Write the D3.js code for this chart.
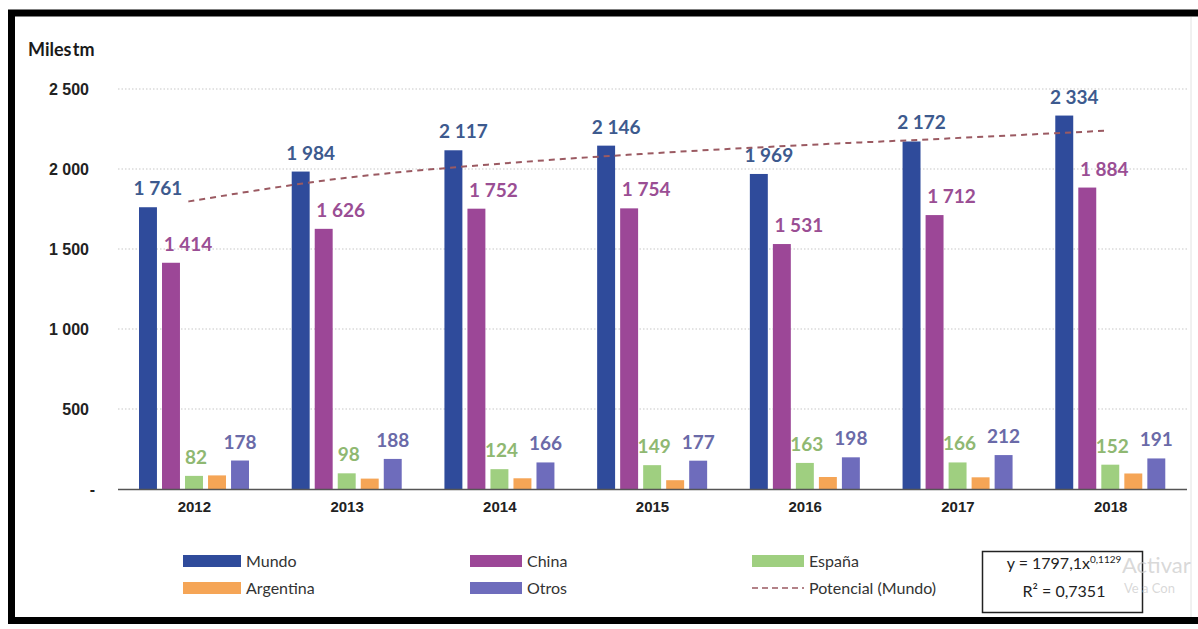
<!DOCTYPE html>
<html>
<head>
<meta charset="utf-8">
<script src="https://cdn.jsdelivr.net/npm/d3@7"></script>
<style>
  html, body { margin: 0; padding: 0; background: #fff; }
  svg { display: block; font-family: Lato, "Open Sans", sans-serif; }
</style>
</head>
<body>
<svg id="chart" width="1198" height="629"></svg>
<script>
/* Volumen por año (miles de tm) — Mundo, China, España, Argentina, Otros */
const YEARS = ["2012", "2013", "2014", "2015", "2016", "2017", "2018"];
const SERIES = ["Mundo", "China", "España", "Argentina", "Otros"];
const MUNDO = [1761, 1984, 2117, 2146, 1969, 2172, 2334];
const CHINA = [1414, 1626, 1752, 1754, 1531, 1712, 1884];
const ESPANA = [82, 98, 124, 149, 163, 166, 152];
const ARGENTINA = [85, 65, 67, 55, 75, 73, 97];
const OTROS = [178, 188, 166, 177, 198, 212, 191];
// Potencial (Mundo): y = 1797,1·x^0,1129
const TREND = [1797, 1941, 2030, 2096, 2148, 2192, 2239];
const Y_TICKS = [0, 500, 1000, 1500, 2000, 2500];

const VALUES = { "Mundo": MUNDO, "China": CHINA, "España": ESPANA, "Argentina": ARGENTINA, "Otros": OTROS };
const LABELED = ["Mundo", "China", "España", "Otros"];

const COLOR = { "Mundo": "#2f4b9b", "China": "#9c4797", "España": "#9fcf80", "Argentina": "#f5a556", "Otros": "#6e6cbc" };
const LABEL_COLOR = { "Mundo": "#3d5a8e", "China": "#9a4e94", "España": "#8fb872", "Otros": "#6a6aa8" };
const TREND_COLOR = "#9b5a62";

const svg = d3.select("#chart");

// frame (open on the right, like the cropped screenshot)
svg.append("rect").attr("x", 0).attr("y", 0).attr("width", 1198).attr("height", 629).attr("fill", "#fff");
svg.append("path").attr("d", "M1198,13 H11.5 V620.5 H1198")
  .attr("fill", "none").attr("stroke", "#000").attr("stroke-width", 7);
svg.append("line").attr("x1", 1191).attr("x2", 1191).attr("y1", 17).attr("y2", 617)
  .attr("stroke", "#e2e2e2").attr("stroke-width", 1);

const x0 = d3.scaleBand().domain(YEARS).range([118, 1187]);
const x1 = d3.scaleBand().domain(SERIES).range([21, 131]).paddingInner(0.22);
const y = d3.scaleLinear().domain([0, 2500]).range([489, 89]);
const fmt = v => d3.format(",")(v).replace(",", " ");

// gridlines (dotted)
svg.append("g").selectAll("line").data(Y_TICKS.filter(t => t > 0)).join("line")
  .attr("x1", 118).attr("x2", 1187).attr("y1", d => y(d)).attr("y2", d => y(d))
  .attr("stroke", "#c8c8c8").attr("stroke-width", 1.2).attr("stroke-dasharray", "1.5,2");

// y axis labels
const gy = svg.append("g").attr("transform", "translate(89,0)")
  .call(d3.axisLeft(y).tickValues(Y_TICKS).tickSize(0).tickPadding(0)
    .tickFormat(d => d === 0 ? "-" : fmt(d)));
gy.select(".domain").remove();
gy.selectAll("text").attr("font-size", 16).attr("font-weight", 700).attr("fill", "#222")
  .attr("dx", d => d === 0 ? 6 : 0);

svg.append("text").attr("x", 28).attr("y", 56).attr("font-size", 18).attr("font-weight", 700)
  .attr("fill", "#1a1a1a").attr("word-spacing", -3).text("Miles tm");

// bars
const groups = svg.append("g").selectAll("g").data(YEARS).join("g")
  .attr("transform", d => `translate(${x0(d)},0)`);
groups.selectAll("rect").data((yr, i) => SERIES.map(s => ({ s, v: VALUES[s][i] }))).join("rect")
  .attr("x", d => x1(d.s)).attr("width", x1.bandwidth())
  .attr("y", d => y(d.v)).attr("height", d => y(0) - y(d.v))
  .attr("fill", d => COLOR[d.s]);

// baseline
svg.append("line").attr("x1", 118).attr("x2", 1187).attr("y1", y(0) + 0.5).attr("y2", y(0) + 0.5)
  .attr("stroke", "#555").attr("stroke-width", 1.5);

// x axis labels
const gx = svg.append("g").attr("transform", `translate(0,${y(0)})`)
  .call(d3.axisBottom(x0).tickSize(0).tickPadding(12));
gx.select(".domain").remove();
gx.selectAll("text").attr("font-size", 15).attr("font-weight", 700).attr("fill", "#222");

// trend line (Potencial Mundo)
const trend = d3.line().curve(d3.curveMonotoneX)
  .x((d, i) => x0(YEARS[i]) + x0.bandwidth() / 2 - 6).y(d => y(d));
svg.append("path").datum(TREND).attr("d", trend)
  .attr("fill", "none").attr("stroke", TREND_COLOR).attr("stroke-width", 2)
  .attr("stroke-dasharray", "6,5");

// data labels
const LABEL_DX = { "Mundo": 10, "China": 17, "España": 2, "Otros": 0 };
groups.selectAll("text.val").data((yr, i) => LABELED.map(s => ({ s, v: VALUES[s][i] }))).join("text")
  .attr("class", "val")
  .attr("x", d => x1(d.s) + x1.bandwidth() / 2 + LABEL_DX[d.s])
  .attr("y", d => y(d.v) - 12)
  .attr("text-anchor", "middle").attr("font-size", 19).attr("font-weight", 700)
  .attr("fill", d => LABEL_COLOR[d.s]).text(d => fmt(d.v));

// legend
const LEGEND = [
  { key: "Mundo", col: 0, row: 0 }, { key: "China", col: 1, row: 0 }, { key: "España", col: 2, row: 0 },
  { key: "Argentina", col: 0, row: 1 }, { key: "Otros", col: 1, row: 1 }, { key: "Potencial (Mundo)", col: 2, row: 1, dashed: true },
];
const colX = [183, 470, 752], rowY = [561, 588];
const lg = svg.append("g").selectAll("g").data(LEGEND).join("g")
  .attr("transform", d => `translate(${colX[d.col]},${rowY[d.row]})`);
lg.filter(d => !d.dashed).append("rect").attr("x", 0).attr("y", -6).attr("width", d => d.col === 0 ? 58 : 52).attr("height", 12)
  .attr("fill", d => COLOR[d.key]);
lg.filter(d => d.dashed).append("line").attr("x1", 0).attr("x2", 52).attr("y1", 0).attr("y2", 0)
  .attr("stroke", TREND_COLOR).attr("stroke-width", 1.6).attr("stroke-dasharray", "6,4");
lg.append("text").attr("x", d => d.col === 0 ? 63 : 57).attr("y", 0).attr("dy", "0.35em")
  .attr("font-size", 16).attr("fill", "#333").text(d => d.key);

// equation box
svg.append("rect").attr("x", 982.5).attr("y", 551.5).attr("width", 160).attr("height", 61)
  .attr("fill", "#fff").attr("stroke", "#222").attr("stroke-width", 1.5);
const eq = svg.append("text").attr("x", 1064).attr("y", 569).attr("text-anchor", "middle")
  .attr("font-size", 16).attr("fill", "#222");
eq.append("tspan").text("y = 1797,1x");
eq.append("tspan").attr("dy", -6).attr("font-size", 10).text("0,1129");
svg.append("text").attr("x", 1064).attr("y", 597).attr("text-anchor", "middle")
  .attr("font-size", 16).attr("fill", "#222").text("R² = 0,7351");

// faint watermark
svg.append("text").attr("x", 1122).attr("y", 573).attr("font-size", 22).attr("fill", "#c8c8c8")
  .attr("fill-opacity", 0.7).text("Activar");
svg.append("text").attr("x", 1124).attr("y", 593).attr("font-size", 13).attr("fill", "#c8c8c8")
  .attr("fill-opacity", 0.7).text("Ve a Con");
</script>
</body>
</html>
